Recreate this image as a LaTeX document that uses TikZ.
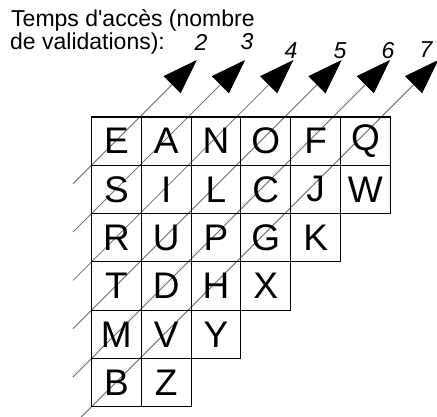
\documentclass[tikz,border=0pt]{standalone}
\usepackage{fontspec}
\setmainfont{Liberation Sans}
\usetikzlibrary{arrows.meta}
\begin{document}
\begin{tikzpicture}[x=1pt,y=-1pt,
  cellbox/.style={draw=black,line width=1.1pt,minimum width=49.8pt,minimum height=48.3pt,inner sep=0pt,
    font=\fontsize{37}{40}\selectfont},
  diag/.style={draw=black!60,line width=0.8pt,-{Triangle[length=35pt,width=24pt,color=black]}},
  numlabel/.style={inner sep=0pt,font=\fontsize{23}{25}\selectfont\itshape},
  title/.style={inner sep=0pt,anchor=base west,font=\fontsize{23}{25}\selectfont}]
\useasboundingbox (0,0) rectangle (437,417);
\clip (0,0) rectangle (437,417);
% diagonal access-time lines
\foreach \k in {2,...,7}{
  \pgfmathsetmacro{\Y}{117+(\k-1)*48.3}
  \pgfmathsetmacro{\d}{\Y-60}
  \coordinate (s\k) at (91.5-18.5,\Y+18.5);
  \coordinate (t\k) at (91.5+\d,60);
  \draw[diag] (s\k) -- (t\k);
}
% grid cells
\foreach \r/\row in {1/{E,A,N,O,F,Q},2/{S,I,L,C,J,W},3/{R,U,P,G,K},4/{T,D,H,X},5/{M,V,Y},6/{B,Z}}{
  \foreach \ch [count=\c] in \row {
    \node[cellbox] (cell-\r-\c) at ({91.5+(\c-0.5)*49.8},{117+(\r-0.5)*48.3}) {\ch};
  }
}
% title
\node[title] (title1) at (11,27) {Temps d\textquotesingle accès (nombre};
\node[title] (title2) at (10,50) {de validations):};
% numbers
\node[numlabel] (n2) at (201,42) {2};
\node[numlabel] (n3) at (247,42) {3};
\node[numlabel] (n4) at (291,51) {4};
\node[numlabel] (n5) at (340,51) {5};
\node[numlabel] (n6) at (388,51) {6};
\node[numlabel] (n7) at (426,50) {7};
\end{tikzpicture}
\end{document}
